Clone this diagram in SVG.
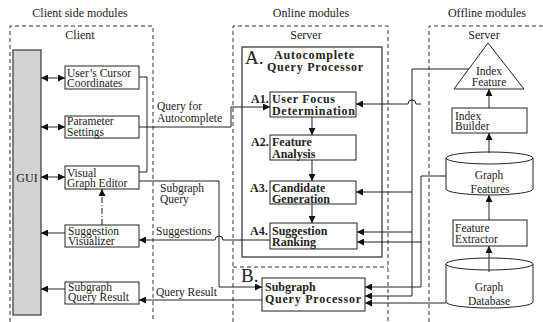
<svg xmlns="http://www.w3.org/2000/svg" width="543" height="322" viewBox="0 0 543 322" font-family="'Liberation Serif', 'DejaVu Serif', serif">
<style>
text{font-family:'Liberation Serif','DejaVu Serif',serif;font-size:11.5px;fill:#222}
.t{font-size:12px}
.b{font-weight:bold;font-size:12px}
.lb{font-weight:bold;font-size:12px}
.big{font-size:19px}
.c{text-anchor:middle}
.box{fill:#fff;stroke:#222;stroke-width:1}
.dash{fill:none;stroke:#333;stroke-width:1;stroke-dasharray:4,3}
.ln{fill:none;stroke:#222;stroke-width:1}
.ar{marker-end:url(#ah)}
.da{marker-start:url(#ah);marker-end:url(#ah)}
</style>
<defs>
<marker id="ah" viewBox="0 0 10 10" refX="10" refY="5" markerWidth="8" markerHeight="7" orient="auto-start-reverse" markerUnits="userSpaceOnUse"><path d="M0,0 L10,5 L0,10 z" fill="#111"/></marker>
</defs>

<g id="regions">
<path class="dash" d="M10,322 V26 H153 V322"/>
<path class="dash" d="M233,322 V26 H388 V322"/>
<path class="dash" d="M233,267 H388"/>
<path class="dash" d="M429,322 V26 H543"/>
<text class="c t" x="80" y="17">Client side modules</text>
<text class="c t" x="311" y="17">Online modules</text>
<text class="c t" x="487" y="17">Offline modules</text>
<text class="c t" x="80" y="39">Client</text>
<text class="c t" x="306" y="39">Server</text>
<text class="c t" x="484" y="39">Server</text>
</g>

<g id="gui">
<rect x="13" y="50" width="28" height="265" fill="#d3d3d3" stroke="#444" stroke-width="1.3"/>
<text class="c t" x="27" y="182">GUI</text>
</g>
<g id="cursor">
<rect class="box" x="65" y="66" width="74" height="23"/>
<text x="67" y="76.5">User’s Cursor</text>
<text x="67" y="87">Coordinates</text>
</g>
<g id="params">
<rect class="box" x="65" y="116" width="74" height="22"/>
<text x="67" y="125">Parameter</text>
<text x="67" y="135.5">Settings</text>
</g>
<g id="editor">
<rect class="box" x="65" y="166" width="74" height="23"/>
<text x="67" y="176.5">Visual</text>
<text x="67" y="187">Graph Editor</text>
</g>
<g id="visualizer">
<rect class="box" x="65" y="225" width="74" height="22"/>
<text x="68" y="234.5">Suggestion</text>
<text x="68" y="245">Visualizer</text>
</g>
<g id="result">
<rect class="box" x="65" y="282" width="74" height="22"/>
<text x="68" y="290.5">Subgraph</text>
<text x="68" y="301">Query Result</text>
</g>

<g id="procA">
<rect x="242" y="47" width="140" height="210" fill="none" stroke="#555" stroke-width="1.5"/>
<text class="big" x="245" y="64">A.</text>
<text class="b c" x="314" y="59" textLength="80">Autocomplete</text>
<text class="b c" x="315" y="71" textLength="96">Query Processor</text>
</g>
<g id="a1">
<rect class="box" x="270" y="92" width="86" height="25"/>
<text class="lb" x="251" y="103">A1.</text>
<text class="b" x="272" y="103" textLength="63">User Focus</text>
<text class="b" x="272" y="114.5" textLength="83">Determination</text>
</g>
<g id="a2">
<rect class="box" x="270" y="135" width="86" height="25"/>
<text class="lb" x="251" y="146">A2.</text>
<text class="b" x="272" y="146">Feature</text>
<text class="b" x="272" y="157.5">Analysis</text>
</g>
<g id="a3">
<rect class="box" x="270" y="181" width="86" height="23"/>
<text class="lb" x="250" y="191.5">A3.</text>
<text class="b" x="272" y="191.5">Candidate</text>
<text class="b" x="272" y="202.5">Generation</text>
</g>
<g id="a4">
<rect class="box" x="270" y="223" width="87" height="26"/>
<text class="lb" x="250" y="234.5">A4.</text>
<text class="b" x="272" y="234.5">Suggestion</text>
<text class="b" x="272" y="246">Ranking</text>
</g>
<g id="procB">
<rect x="262" y="278" width="103" height="33" fill="#fff" stroke="#444" stroke-width="1.2"/>
<text class="big" x="241" y="282">B.</text>
<text class="b" x="265" y="291">Subgraph</text>
<text class="b" x="265" y="303" textLength="96">Query Processor</text>
</g>

<g id="indexFeature">
<path d="M488,43 L524,89 L454,89 Z" fill="#fff" stroke="#222"/>
<text class="c" x="489" y="74.5">Index</text>
<text class="c" x="489" y="86">Feature</text>
</g>
<g id="indexBuilder">
<rect class="box" x="452" y="108" width="75" height="25"/>
<text x="455" y="119.5">Index</text>
<text x="455" y="130">Builder</text>
</g>
<g id="graphFeatures">
<path d="M446,158 A43.5,6 0 0 1 533,158 V189 A43.5,6 0 0 1 446,189 Z" fill="#fff" stroke="#222"/>
<path d="M446,158 A43.5,6 0 0 0 533,158" fill="none" stroke="#222"/>
<text class="c" x="489" y="179">Graph</text>
<text class="c" x="490" y="193">Features</text>
</g>
<g id="featureExtractor">
<rect class="box" x="453" y="220" width="74" height="26"/>
<text x="455" y="231.5">Feature</text>
<text x="455" y="243">Extractor</text>
</g>
<g id="graphDatabase">
<path d="M446,264 A43.5,6 0 0 1 533,264 V302 A43.5,6 0 0 1 446,302 Z" fill="#fff" stroke="#222"/>
<path d="M446,264 A43.5,6 0 0 0 533,264" fill="none" stroke="#222"/>
<text class="c" x="489" y="291">Graph</text>
<text class="c" x="489" y="305">Database</text>
</g>

<g id="connectors">
<path class="ln da" d="M41,78 H65"/>
<path class="ln da" d="M41,127 H65"/>
<path class="ln da" d="M41,177 H65"/>
<path class="ln ar" d="M65,233 H41"/>
<path class="ln ar" d="M65,289 H41"/>
<path class="ln ar" d="M102,225 V189" stroke-dasharray="6,2,1,2"/>
<path class="ln" d="M139,77 H147 V172 H139"/>
<path class="ln ar" d="M139,127 H231 V107 H270"/>
<text x="157" y="109.5">Query for</text>
<text x="157" y="122">Autocomplete</text>
<path class="ln ar" d="M139,181 H219 V287 H262"/>
<text x="160" y="191.5">Subgraph</text>
<text x="160" y="203">Query</text>
<path class="ln ar" d="M270,240 H223 A4,4 0 0 0 215,240 H139"/>
<text x="156" y="235">Suggestions</text>
<path class="ln ar" d="M262,300 H139"/>
<text x="156" y="296">Query Result</text>
<path class="ln ar" d="M312,117 V135"/>
<path class="ln ar" d="M312,160 V181"/>
<path class="ln ar" d="M312,204 V223"/>
<path class="ln" d="M469,69 H412 V296"/>
<path class="ln ar" d="M412,192 H356"/>
<path class="ln ar" d="M412,232 H357"/>
<path class="ln ar" d="M412,296 H365"/>
<path class="ln" d="M446,176 H421 V287"/>
<path class="ln ar" d="M421,104 H416 A4,4 0 0 0 408,104 H356"/>
<path class="ln ar" d="M421,242 H357"/>
<path class="ln ar" d="M421,287 H365"/>
<path class="ln ar" d="M446,303 H365"/>
<path class="ln ar" d="M489,108 V89"/>
<path class="ln ar" d="M489,153 V133"/>
<path class="ln ar" d="M489,220 V195"/>
<path class="ln ar" d="M489,272 V246"/>
</g>
</svg>
